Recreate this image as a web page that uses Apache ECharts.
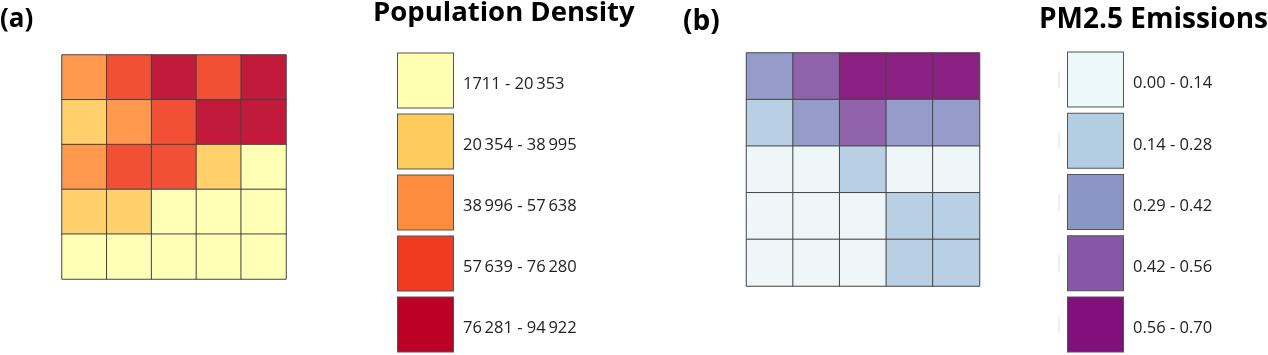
<!DOCTYPE html>
<html>
<head>
<meta charset="utf-8">
<title>Population Density and PM2.5 Emissions</title>
<style>
  html, body { margin: 0; padding: 0; background: #fff; }
  #main { width: 1268px; height: 355px; }
</style>
<script src="https://cdn.jsdelivr.net/npm/echarts@6/dist/echarts.min.js"></script>
</head>
<body>
<div id="main"></div>
<script>
// class of each cell, top row first (0 = lowest class)
var popRows = [
  [2, 3, 4, 3, 4],
  [1, 2, 3, 4, 4],
  [2, 3, 3, 1, 0],
  [1, 1, 0, 0, 0],
  [0, 0, 0, 0, 0]
]
var pmRows = [
  [2, 3, 4, 4, 4],
  [1, 2, 3, 2, 2],
  [0, 0, 1, 0, 0],
  [0, 0, 0, 1, 1],
  [0, 0, 0, 1, 1]
]
var popLabels = ['1711 - 20\u2009353', '20\u2009354 - 38\u2009995', '38\u2009996 - 57\u2009638', '57\u2009639 - 76\u2009280', '76\u2009281 - 94\u2009922']
var pmLabels = ['0.00 - 0.14', '0.14 - 0.28', '0.29 - 0.42', '0.42 - 0.56', '0.56 - 0.70']
var popSwatch = ['#ffffb2', '#fecc5c', '#fd8d3c', '#f03b20', '#bd0026']
var pmSwatch = ['#edf8fb', '#b3cde3', '#8c96c6', '#8856a7', '#810f7c']
var popCell = ['#ffffb6', '#ffd06c', '#ff994e', '#f25035', '#c21a3a']
var pmCell = ['#eef6f9', '#b9cfe4', '#959cc9', '#8f62ab', '#8a2082']
var columns = ['c1', 'c2', 'c3', 'c4', 'c5']
var rows = ['r1', 'r2', 'r3', 'r4', 'r5']

var lineColor = '#444'
var labelFont = '"Open Sans", sans-serif'

var option = {
  animation: false,
  backgroundColor: '#fff',
  title: [],
  grid: [],
  xAxis: [],
  yAxis: [],
  visualMap: [],
  series: []
}

function addTitle (text, left, top, size) {
  option.title.push({
    text: text,
    left: left,
    top: top,
    padding: 0,
    textStyle: { fontFamily: labelFont, fontWeight: 'bold', fontSize: size, color: '#000' }
  })
}

// one 5x5 map drawn as a heatmap
function addMap (box, cellRows, colors) {
  var idx = option.grid.length
  var data = []
  cellRows.forEach(function (row, r) {
    row.forEach(function (v, c) { data.push([c, r, v]) })
  })
  option.grid.push(box)
  option.xAxis.push({ gridIndex: idx, type: 'category', data: columns, show: false })
  option.yAxis.push({ gridIndex: idx, type: 'category', data: rows, inverse: true, show: false })
  option.visualMap.push({
    type: 'piecewise',
    show: false,
    seriesIndex: option.series.length,
    pieces: colors.map(function (col, i) { return { value: i, color: col } })
  })
  option.series.push({
    type: 'heatmap',
    xAxisIndex: idx,
    yAxisIndex: idx,
    data: data,
    itemStyle: { borderColor: lineColor, borderWidth: 1 }
  })
}

// legend column: one rect symbol per class, labels come from the y axis
function addLegend (box, labels, colors, size) {
  var idx = option.grid.length
  option.grid.push(box)
  option.xAxis.push({ gridIndex: idx, type: 'category', data: ['key'], show: false })
  option.yAxis.push({
    gridIndex: idx,
    type: 'category',
    data: labels,
    inverse: true,
    position: 'right',
    axisLine: { show: false },
    axisTick: { show: false },
    splitLine: { show: false },
    axisLabel: {
      interval: 0,
      margin: 9,
      verticalAlign: 'top',
      lineHeight: 8,
      fontFamily: labelFont,
      fontSize: 16.5,
      color: '#222'
    }
  })
  option.series.push({
    type: 'scatter',
    xAxisIndex: idx,
    yAxisIndex: idx,
    symbol: 'rect',
    symbolSize: size,
    data: labels.map(function (l, i) {
      return { value: ['key', l], itemStyle: { color: colors[i], opacity: 1, borderColor: '#555', borderWidth: 1 } }
    })
  })
}

// faint marks left of the PM2.5 legend
function addFaintMarks (box, labels) {
  var idx = option.grid.length
  option.grid.push(box)
  option.xAxis.push({ gridIndex: idx, type: 'category', data: ['key'], show: false })
  option.yAxis.push({ gridIndex: idx, type: 'category', data: labels, inverse: true, show: false })
  option.series.push({
    type: 'scatter',
    xAxisIndex: idx,
    yAxisIndex: idx,
    symbol: 'rect',
    symbolSize: [1, 17],
    itemStyle: { color: '#e2e2e2', opacity: 1 },
    data: labels.map(function (l) { return ['key', l] })
  })
}

addTitle('(a)', 0, 7, 26)
addTitle('Population Density', 373, -1, 27.5)
addTitle('(b)', 683, 8, 28)
addTitle('PM2.5 Emissions', 1039, 6, 28)

addMap({ left: 62, top: 55, width: 224, height: 224 }, popRows, popCell)
addMap({ left: 746.5, top: 53, width: 233, height: 233 }, pmRows, pmCell)
addLegend({ left: 397, top: 50, width: 57, height: 306 }, popLabels, popSwatch, [56, 55])
addLegend({ left: 1067, top: 49, width: 57, height: 306 }, pmLabels, pmSwatch, [56, 55])
addFaintMarks({ left: 1056, top: 49, width: 6, height: 306 }, pmLabels)

var myChart = echarts.init(document.getElementById('main'), null, { renderer: 'canvas' })
myChart.setOption(option)
</script>
</body>
</html>
